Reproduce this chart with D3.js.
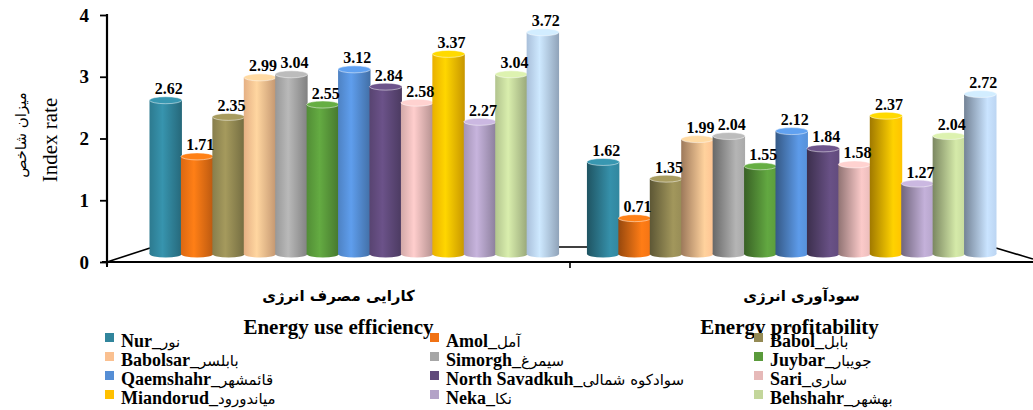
<!DOCTYPE html>
<html>
<head>
<meta charset="utf-8">
<script src="https://cdn.jsdelivr.net/npm/d3@7"></script>
<style>
  html, body { margin: 0; padding: 0; background: #fff; }
  svg { display: block; }
</style>
</head>
<body>
<svg id="chart" width="1033" height="410" font-family="Liberation Serif, DejaVu Sans, serif"></svg>
<script>
// Index categories (Persian) and their English captions
const groups = ["کارایی مصرف انرژی", "سودآوری انرژی"];
const groupsEn = ["Energy use efficiency", "Energy profitability"];

// Regions (legend labels)
const series = [
  "Nur_نور", "Amol_آمل", "Babol_بابل",
  "Babolsar_بابلسر", "Simorgh_سیمرغ", "Juybar_جویبار",
  "Qaemshahr_قائمشهر", "North Savadkuh_سوادکوه شمالی", "Sari_ساری",
  "Miandorud_میاندورود", "Neka_نکا", "Behshahr_بهشهر",
  "Mazandaran_مازندران"
];

// Values per index
const efficiency    = [2.62, 1.71, 2.35, 2.99, 3.04, 2.55, 3.12, 2.84, 2.58, 3.37, 2.27, 3.04, 3.72];
const profitability = [1.62, 0.71, 1.35, 1.99, 2.04, 1.55, 2.12, 1.84, 1.58, 2.37, 1.27, 2.04, 2.72];

const colors = [
  "#31859c", "#f07214", "#948a54", "#fac090", "#a6a6a6", "#5a9a3b",
  "#558ed5", "#604a7b", "#e6b9b8", "#ffc000", "#b3a2c7", "#c3d69b", "#b9d1ee"
];

const yTicks = [0, 1, 2, 3, 4];

// Number of legend entries that fit in the four legend rows
const legendCount = 12;

const valuesByGroup = [efficiency, profitability];

const svg = d3.select("#chart");
const defs = svg.append("defs");

// Scales
const y = d3.scaleLinear().domain([0, 4]).range([262, 15]);
const x0 = d3.scaleBand().domain(groups).range([150, 996]).paddingInner(0.066);
const x1 = d3.scaleBand().domain(series).range([0, x0.bandwidth()]);
// category captions sit centred on the front edge of the floor
const xLabel = d3.scaleBand().domain(groups).range([107, 1033]);

const baseY = y(0) - 8; // floor line where the cylinders stand

// Floor outline
const floor = svg.append("g").attr("stroke", "#000").attr("fill", "none");
floor.append("line").attr("x1", 102).attr("x2", 1033).attr("y1", y(0)).attr("y2", y(0)).attr("stroke-width", 2);
floor.append("line").attr("x1", 107).attr("y1", y(0)).attr("x2", 150).attr("y2", 248).attr("stroke-width", 1.6);
floor.append("line").attr("x1", 150).attr("y1", 247).attr("x2", 996).attr("y2", 247).attr("stroke-width", 1.6);
floor.append("line").attr("x1", 996).attr("y1", 248).attr("x2", 1033).attr("y2", 259).attr("stroke-width", 1.6);
floor.append("line").attr("x1", xLabel(groups[1])).attr("x2", xLabel(groups[1])).attr("y1", y(0)).attr("y2", y(0) + 6).attr("stroke-width", 1.6);
floor.append("line").attr("x1", 107).attr("x2", 107).attr("y1", y(0)).attr("y2", y(0) + 5).attr("stroke-width", 2);

// Y axis
const yAxis = svg.append("g")
  .attr("transform", "translate(107,0)")
  .call(d3.axisLeft(y).tickValues(yTicks).tickSize(7).tickFormat(d3.format("d")).tickPadding(11));
yAxis.select(".domain").attr("stroke", "#000").attr("stroke-width", 2.2)
  .attr("d", `M0,${y(4) - 1}V${y(0) + 3}`);
yAxis.selectAll(".tick line").attr("stroke", "#000").attr("stroke-width", 1.8);
yAxis.selectAll(".tick text")
  .attr("font-family", "Liberation Serif")
  .attr("font-weight", "bold")
  .attr("font-size", 19)
  .attr("fill", "#000");

// Axis titles
svg.append("text")
  .attr("transform", "translate(57,140) rotate(-90)")
  .attr("text-anchor", "middle")
  .attr("font-size", 21)
  .text("Index rate");
svg.append("text")
  .attr("transform", "translate(26,135) rotate(-90)")
  .attr("text-anchor", "middle")
  .attr("font-family", "DejaVu Sans")
  .attr("font-size", 15)
  .text("میزان شاخص");

// Cylinder shading gradients (lighting differs a bit between the two groups)
groups.forEach((g, gi) => {
  series.forEach((s, si) => {
    const c = d3.color(colors[si]);
    const grad = defs.append("linearGradient")
      .attr("id", `grad-${gi}-${si}`)
      .attr("x1", "0%").attr("x2", "100%").attr("y1", "0%").attr("y2", "0%");
    const stops = gi === 0
      ? [[0, c.darker(0.25)], [0.4, c.brighter(0.3)], [1, c.darker(0.7)]]
      : [[0, c.darker(1.3)], [0.72, c.brighter(0.25)], [1, c.brighter(0.05)]];
    stops.forEach(([o, col]) => grad.append("stop").attr("offset", o).attr("stop-color", col.formatHex()));
  });
});

// Bars
const bw = x1.bandwidth();
const rx = bw / 2 + 0.5;
const ry = 3.5;

groups.forEach((g, gi) => {
  const gBars = svg.append("g").attr("transform", `translate(${x0(g)},0)`);
  series.forEach((s, si) => {
    const v = valuesByGroup[gi][si];
    const cx = x1(s) + bw / 2;
    const top = y(v);
    const bar = gBars.append("g");
    // bottom cap
    bar.append("ellipse")
      .attr("cx", cx).attr("cy", baseY).attr("rx", rx).attr("ry", ry)
      .attr("fill", `url(#grad-${gi}-${si})`);
    // body
    bar.append("rect")
      .attr("x", cx - rx).attr("y", top)
      .attr("width", rx * 2).attr("height", baseY - top)
      .attr("fill", `url(#grad-${gi}-${si})`);
    // top cap
    bar.append("ellipse")
      .attr("cx", cx).attr("cy", top).attr("rx", rx).attr("ry", ry)
      .attr("fill", d3.color(colors[si]).brighter(0.35).formatHex())
      .attr("stroke", "#ffffff").attr("stroke-opacity", 0.6).attr("stroke-width", 0.8);
  });
  // value labels
  series.forEach((s, si) => {
    const v = valuesByGroup[gi][si];
    gBars.append("text")
      .attr("x", x1(s) + bw / 2 + 3)
      .attr("y", y(v) - 6)
      .attr("text-anchor", "middle")
      .attr("font-weight", "bold")
      .attr("font-size", 16)
      .attr("fill", "#000")
      .text(d3.format(".2f")(v));
  });
});

// Category labels
const center = d => xLabel(d) + xLabel.bandwidth() / 2;
svg.append("g").selectAll("text")
  .data(groups).join("text")
  .attr("x", d => center(d)).attr("y", 301)
  .attr("text-anchor", "middle")
  .attr("font-family", "DejaVu Sans")
  .attr("font-weight", "bold")
  .attr("font-size", 15)
  .text(d => d);
svg.append("g").selectAll("text")
  .data(groupsEn).join("text")
  .attr("x", (d, i) => center(groups[i]) - (i === 1 ? 12 : 0)).attr("y", 334)
  .attr("text-anchor", "middle")
  .attr("font-weight", "bold")
  .attr("font-size", 21)
  .text(d => d);

// Legend: three columns, row-major
const legendX = [105, 430, 754];
const legend = svg.append("g");
series.slice(0, legendCount).forEach((s, i) => {
  const col = i % 3, row = Math.floor(i / 3);
  const gx = legendX[col];
  const [en, fa] = s.split("_");
  legend.append("rect")
    .attr("x", gx).attr("y", 333 + row * 19)
    .attr("width", 9).attr("height", 9)
    .attr("fill", colors[i]);
  const t = legend.append("text")
    .attr("x", gx + 16).attr("y", 347 + row * 19)
    .attr("font-size", 18);
  t.append("tspan").attr("font-weight", "bold").text(en + "_");
  t.append("tspan").attr("font-family", "DejaVu Sans").attr("font-size", 15).text(fa);
});
</script>
</body>
</html>
